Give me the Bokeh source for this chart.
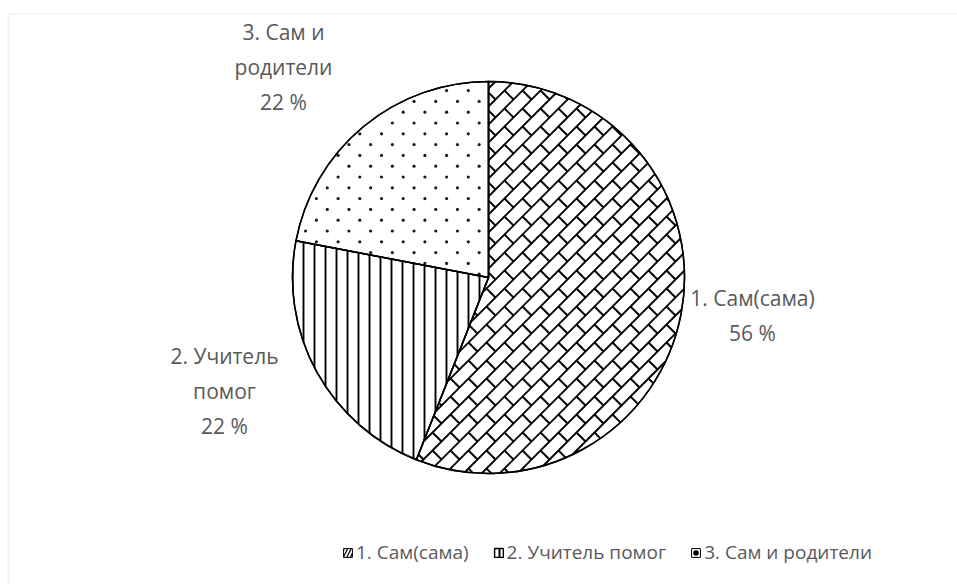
from bokeh.plotting import figure
from bokeh.models import Range1d, Legend, LegendItem, BoxAnnotation, ColumnDataSource
from bokeh.core.properties import value
from bokeh.embed import file_html
from bokeh.resources import INLINE
import math
import numpy as np

# ---- data ----
categories = ["1. Сам(сама)", "2. Учитель помог", "3. Сам и родители"]
shares = [56, 22, 22]
label_lines = ["1. Сам(сама)\n56 %", "2. Учитель\nпомог\n22 %", "3. Сам и\nродители\n22 %"]

# ---- layout / style (screen pixels, y downward) ----
W, H = 957, 584
CXs, CYs, R = 488, 277, 196
label_pos = [(752, 315), (224, 390), (283, 66)]
FONT = "Open Sans"
TXT = "#595959"
BRICK = 18          # brick pattern period
DOT_DX, DOT_DY = 21.7, 10.8
DOT_ORIGIN = (381, 111.7)

total = sum(shares)
bounds = np.cumsum([0] + shares) / total * 2 * math.pi   # clockwise from 12 o'clock


def in_sector(xs, ys, th0, th1):
    qx, qy = xs - CXs, ys - CYs
    th = np.mod(np.arctan2(qx, -qy), 2 * math.pi)
    return (qx * qx + qy * qy <= R * R) & (th >= th0) & (th <= th1)


def clip(x0, y0, x1, y1, th0, th1, step=0.25):
    L = math.hypot(x1 - x0, y1 - y0)
    n = max(2, int(L / step) + 1)
    t = np.linspace(0, 1, n)
    xs, ys = x0 + t * (x1 - x0), y0 + t * (y1 - y0)
    m = in_sector(xs, ys, th0, th1).astype(int)
    d = np.diff(np.concatenate([[0], m, [0]]))
    starts, ends = np.where(d == 1)[0], np.where(d == -1)[0] - 1
    return [(xs[s], ys[s], xs[e], ys[e]) for s, e in zip(starts, ends) if e > s]


p = figure(width=W, height=H, x_range=Range1d(0, W), y_range=Range1d(0, H),
           output_backend="svg", toolbar_location=None, min_border=0,
           x_axis_type=None, y_axis_type=None)
p.grid.visible = False
p.outline_line_color = None
p.background_fill_color = "white"

p.add_layout(BoxAnnotation(left=8, right=3000, top=H - 13.5, bottom=-3000,
                           fill_alpha=0, line_color="#d9d9d9", line_width=2))

CY = H - CYs
hatch_main = [dict(), dict(hatch_pattern="vertical_line", hatch_scale=11, hatch_weight=1.9,
                           hatch_color="black"), dict()]
wedges = []
for i in range(len(shares)):
    a0 = math.pi / 2 - bounds[i]
    a1 = math.pi / 2 - bounds[i + 1]
    src = ColumnDataSource(dict(x=[CXs], y=[CY], a0=[a0], a1=[a1]))
    r = p.wedge(x="x", y="y", radius=R, radius_units="screen", start_angle="a0", end_angle="a1",
                direction="clock", source=src, fill_color="white", line_color="black",
                line_width=1.5, **hatch_main[i])
    wedges.append((r, src))

# --- brick pattern in slice 1 ---
th0, th1 = bounds[0], bounds[1]
segs = []
s = BRICK
cmin, cmax = CXs + CYs - 2 * R - s, CXs + CYs + 2 * R + s
kmin, kmax = int(math.floor(cmin / s)), int(math.ceil(cmax / s))
for k in range(kmin, kmax + 1):
    c = k * s
    segs += clip(CXs - R - 4, c - (CXs - R - 4), CXs + R + 4, c - (CXs + R + 4), th0, th1)
    emin, emax = -2 * R - 2 * s + (CXs - CYs), 2 * R + 2 * s + (CXs - CYs)
    jmin = int(math.floor((emin - k * s) / (2 * s)))
    jmax = int(math.ceil((emax - k * s) / (2 * s)))
    for j in range(jmin, jmax + 1):
        e = k * s + 2 * s * j
        xa, ya = (c + e) / 2, (c - e) / 2
        xb, yb = (c + s + e) / 2, (c + s - e) / 2
        if math.hypot((xa + xb) / 2 - CXs, (ya + yb) / 2 - CYs) > R + s:
            continue
        segs += clip(xa, ya, xb, yb, th0, th1)
if segs:
    sx0, sy0, sx1, sy1 = map(list, zip(*segs))
    p.segment(x0=sx0, y0=[H - v for v in sy0], x1=sx1, y1=[H - v for v in sy1],
              line_color="black", line_width=1.9)

# --- dot pattern in slice 3 ---
th0, th1 = bounds[2], bounds[3]
ox, oy = DOT_ORIGIN
dx_, dy_ = [], []
for rr in range(-60, 61):
    yv = oy + rr * DOT_DY
    if abs(yv - CYs) > R:
        continue
    shift = (rr % 2) * DOT_DX / 2
    xv = ox + shift + np.arange(-40, 41) * DOT_DX
    yvv = np.full_like(xv, yv)
    m = in_sector(xv, yvv, th0, th1)
    qx, qy = xv - CXs, yvv - CYs
    m &= (qx * qx + qy * qy <= (R - 2) ** 2)
    dx_ += list(xv[m]); dy_ += list(H - yvv[m])
p.scatter(x=dx_, y=dy_, marker="circle", size=3.2, fill_color="#1a1a1a", line_color=None)

# --- outlines on top ---
for i in range(len(shares)):
    r, src = wedges[i]
    p.wedge(x="x", y="y", radius=R, radius_units="screen", start_angle="a0", end_angle="a1",
            direction="clock", source=src, fill_alpha=0, line_color="black", line_width=1.5)

# --- legend proxies (placed off canvas) ---
legend_hatch = [dict(hatch_pattern="right_diagonal_line", hatch_scale=7, hatch_weight=1.2, hatch_color="black"),
                None,
                dict(hatch_pattern="dot", hatch_scale=11, hatch_weight=1.5, hatch_color="black")]
items = []
for i, cat in enumerate(categories):
    if legend_hatch[i] is None:
        rend = wedges[i][0]
    else:
        rend = p.wedge(x=[-5000], y=[-5000], radius=1, start_angle=0, end_angle=1,
                       fill_color="white", line_color="black", line_width=1, **legend_hatch[i])
    items.append(LegendItem(label=cat, renderers=[rend]))

lx = [q[0] for q in label_pos]
ly = [H - q[1] for q in label_pos]
p.text(x=lx, y=ly, text=label_lines, text_align="center", text_baseline="middle",
       text_font=value(FONT), text_font_size="21px", text_color=TXT, text_line_height=1.25)

legend = Legend(items=items, orientation="horizontal", location=(342, 19),
                glyph_width=11, glyph_height=11, label_standoff=3, spacing=24,
                padding=0, margin=0, border_line_color=None, background_fill_alpha=0,
                label_text_font=FONT, label_text_font_size="19px", label_text_color=TXT)
p.add_layout(legend)

open("out.html", "w").write(file_html(p, INLINE))
